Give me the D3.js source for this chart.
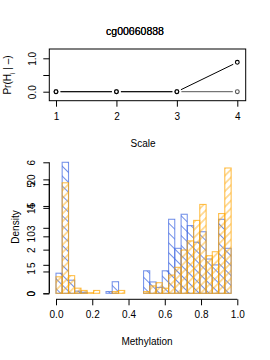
<!DOCTYPE html>
<html>
<head>
<meta charset="utf-8">
<script src="https://cdn.jsdelivr.net/npm/d3@7"></script>
<style>
  body { margin: 0; background: #fff; }
  svg { display: block; font-family: "Liberation Sans", Arial, sans-serif; }
</style>
</head>
<body>
<script>
// Top panel: posterior probability per scale
const scales = [1, 2, 3, 4];
const probHigh = [0, 0, 0, 0.88];
const probFlat = [0, 0, 0, 0];
const titles = ["cg00660888", "cg00060838"];

// Bottom panel: methylation histograms (29 bins on 0..1)
const breaks = [0.000, 0.034, 0.069, 0.103, 0.138, 0.172, 0.207, 0.241, 0.276, 0.310,
  0.345, 0.379, 0.414, 0.448, 0.483, 0.517, 0.552, 0.586, 0.621, 0.655,
  0.690, 0.724, 0.759, 0.793, 0.828, 0.862, 0.897, 0.931, 0.966, 1.000];
const blueDensity = [0.92, 6.0, 0.6, 0.1, 0.05, 0, 0, 0, 0.08, 0.53,
  0, 0, 0, 0, 1.03, 0.52, 0.27, 1.03, 3.39, 2.06,
  3.62, 3.1, 2.34, 2.82, 1.57, 1.3, 3.39, 2.06, 0];
const orangeDensity = [2.9, 19.4, 3.1, 0.9, 0.5, 0.1, 0.5, 0, 0, 0.3,
  0.5, 0, 0, 0, 0.3, 1.3, 1.86, 0.9, 3.2, 4.56,
  7.6, 9.2, 12.8, 15.6, 6.6, 7.3, 14.0, 22.0, 0];
const blueTicks = [0, 1, 2, 3, 4, 5, 6];
const orangeTicks = [0, 5, 10, 15, 20];
const methTicks = [0, 0.2, 0.4, 0.6, 0.8, 1.0];

const width = 270;
const height = 360;
const fontSize = 10;

const svg = d3.select("body")
  .append("svg")
  .attr("width", width)
  .attr("height", height);

// hatch patterns
const defs = svg.append("defs");
function hatch(id, color, gap, angle) {
  const p = defs.append("pattern")
    .attr("id", id)
    .attr("patternUnits", "userSpaceOnUse")
    .attr("width", gap)
    .attr("height", gap)
    .attr("patternTransform", `rotate(${angle})`);
  p.append("line")
    .attr("x1", 0).attr("y1", gap / 2)
    .attr("x2", gap).attr("y2", gap / 2)
    .attr("stroke", color)
    .attr("stroke-width", 0.75);
}
hatch("hatchBlue", "#4169e1", 7, 45);
hatch("hatchOrange", "#ffa500", 5.5, -45);

// ---------- top panel ----------
const box = { left: 49.3, right: 245.7, top: 49, bottom: 100.7 };

const xTop = d3.scaleLinear().domain([1, 4]).range([56, 237.3]);
const yTop = d3.scaleLinear().domain([0, 1]).range([91.7, 58.3]);

// title (two overlapping labels)
svg.selectAll(".title")
  .data(titles)
  .enter()
  .append("text")
  .attr("class", "title")
  .attr("x", 135)
  .attr("y", 34.5)
  .attr("text-anchor", "middle")
  .style("font-size", "10.5px")
  .text((d) => d);

svg.append("rect")
  .attr("x", box.left)
  .attr("y", box.top)
  .attr("width", box.right - box.left)
  .attr("height", box.bottom - box.top)
  .attr("fill", "none")
  .attr("stroke", "#000")
  .attr("stroke-width", 1);

const xAxisTop = svg.append("g")
  .attr("transform", `translate(0,${box.bottom})`)
  .call(d3.axisBottom(xTop).tickValues(scales).tickSize(6).tickPadding(6.5).tickFormat(d3.format("d")));
xAxisTop.select(".domain").remove();

const yAxisTop = svg.append("g")
  .attr("transform", `translate(${box.left},0)`)
  .call(d3.axisLeft(yTop).tickValues([0, 0.5, 1]).tickSize(6)
    .tickFormat((d) => (d === 0.5 ? "" : d3.format(".1f")(d))));
yAxisTop.select(".domain").remove();
yAxisTop.selectAll(".tick text")
  .attr("x", 0)
  .attr("dy", null)
  .attr("text-anchor", "middle")
  .attr("transform", "translate(-13.5,0) rotate(-90)");

svg.selectAll(".tick text").style("font-size", fontSize + "px").attr("fill", "#000");
svg.selectAll(".tick line").attr("stroke", "#000");

svg.append("text")
  .attr("x", 143)
  .attr("y", 147)
  .attr("text-anchor", "middle")
  .style("font-size", fontSize + "px")
  .text("Scale");

const yLab = svg.append("text")
  .attr("transform", "translate(10.5,75) rotate(-90)")
  .attr("text-anchor", "middle")
  .style("font-size", fontSize + "px");
yLab.append("tspan").text("Pr(H");
yLab.append("tspan").attr("baseline-shift", "sub").style("font-size", "7px").text("i");
yLab.append("tspan").text(" | \u2013)");

// type "b" lines: segments with gaps around points
function drawSeries(values, color) {
  const pts = values.map((v, i) => [xTop(scales[i]), yTop(v)]);
  const gap = 4.5;
  const segs = d3.pairs(pts).map(([a, b]) => {
    const dx = b[0] - a[0];
    const dy = b[1] - a[1];
    const len = Math.hypot(dx, dy);
    const ux = dx / len;
    const uy = dy / len;
    return [a[0] + ux * gap, a[1] + uy * gap, b[0] - ux * gap, b[1] - uy * gap];
  });
  svg.append("g")
    .selectAll("line")
    .data(segs)
    .enter()
    .append("line")
    .attr("x1", (d) => d[0])
    .attr("y1", (d) => d[1])
    .attr("x2", (d) => d[2])
    .attr("y2", (d) => d[3])
    .attr("stroke", color)
    .attr("stroke-width", 1);
  svg.append("g")
    .selectAll("circle")
    .data(pts)
    .enter()
    .append("circle")
    .attr("cx", (d) => d[0])
    .attr("cy", (d) => d[1])
    .attr("r", 1.9)
    .attr("fill", "none")
    .attr("stroke", color)
    .attr("stroke-width", 1.1);
}
drawSeries(probFlat, "#555");
drawSeries(probHigh, "#000");

// ---------- bottom panel ----------
const x = d3.scaleLinear().domain([0, 1]).range([56, 237.3]);
const yBlue = d3.scaleLinear().domain([0, 6]).range([293.3, 162.3]);
const yOrange = d3.scaleLinear().domain([0, 23]).range([293.3, 162.3]);
const axisX = 49.3;
const axisY = 299.3;

function drawHist(values, y, fill, stroke) {
  svg.append("g")
    .selectAll("rect")
    .data(values)
    .enter()
    .append("rect")
    .attr("x", (d, i) => x(breaks[i]))
    .attr("y", (d) => y(d))
    .attr("width", (d, i) => x(breaks[i + 1]) - x(breaks[i]))
    .attr("height", (d) => y(0) - y(d))
    .attr("fill", fill)
    .attr("stroke", stroke)
    .attr("stroke-opacity", 0.7)
    .attr("stroke-width", 1.1);
}
drawHist(blueDensity, yBlue, "url(#hatchBlue)", "#4169e1");
drawHist(orangeDensity, yOrange, "url(#hatchOrange)", "#ffa500");

function yAxisR(scale, ticks) {
  const g = svg.append("g")
    .attr("transform", `translate(${axisX},0)`)
    .call(d3.axisLeft(scale).tickValues(ticks).tickSize(6).tickFormat(d3.format("d")));
  g.select(".domain").remove();
  g.append("line")
    .attr("x1", 0).attr("x2", 0)
    .attr("y1", scale(ticks[0]))
    .attr("y2", scale(ticks[ticks.length - 1]))
    .attr("stroke", "#000");
  g.selectAll(".tick line").attr("stroke", "#000");
  g.selectAll(".tick text")
    .attr("x", 0)
    .attr("dy", null)
    .attr("text-anchor", "middle")
    .attr("transform", "translate(-14.5,0) rotate(-90)")
    .attr("fill", "#000")
    .style("font-size", fontSize + "px");
}
yAxisR(yBlue, blueTicks);
yAxisR(yOrange, orangeTicks);

const xAxisB = svg.append("g")
  .attr("transform", `translate(0,${axisY})`)
  .call(d3.axisBottom(x).tickValues(methTicks).tickSize(6).tickPadding(6).tickFormat(d3.format(".1f")));
xAxisB.select(".domain").remove();
xAxisB.append("line")
  .attr("x1", x(0)).attr("x2", x(1))
  .attr("stroke", "#000");
xAxisB.selectAll(".tick line").attr("stroke", "#000");
xAxisB.selectAll(".tick text").attr("fill", "#000").style("font-size", fontSize + "px");

svg.append("text")
  .attr("x", 147)
  .attr("y", 344.5)
  .attr("text-anchor", "middle")
  .style("font-size", fontSize + "px")
  .text("Methylation");

svg.append("text")
  .attr("transform", "translate(18.5,227) rotate(-90)")
  .attr("text-anchor", "middle")
  .style("font-size", fontSize + "px")
  .text("Density");
</script>
</body>
</html>
